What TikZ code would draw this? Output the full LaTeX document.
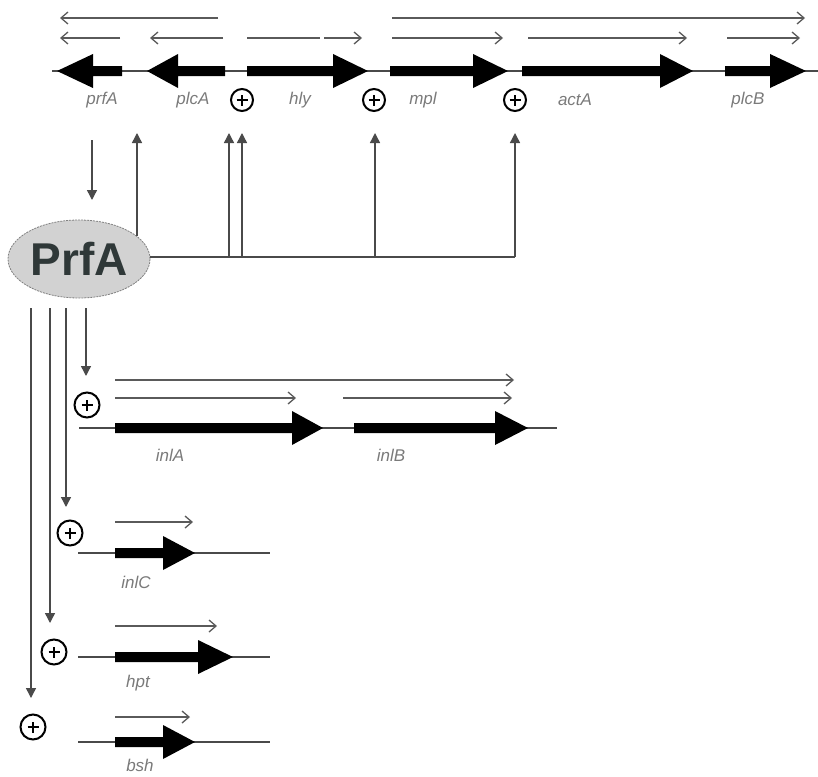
\documentclass[tikz,border=0pt]{standalone}
\usepackage{fontspec}
\setmainfont{Liberation Sans}
\usetikzlibrary{arrows.meta,shapes.geometric}
\definecolor{lineg}{HTML}{4A4A4A}
\definecolor{trg}{HTML}{5A5A5A}
\definecolor{labg}{HTML}{7A7A7A}
\definecolor{prfill}{HTML}{D2D2D2}
\definecolor{prtext}{HTML}{2F3838}
% gene arrow: shaft end, head base, tip, y
\newcommand\genearrow[4]{\fill ({#1},{#4-5}) -- ({#2},{#4-5}) -- ({#2},{#4-17}) -- ({#3},{#4}) -- ({#2},{#4+17}) -- ({#2},{#4+5}) -- ({#1},{#4+5}) -- cycle;}
\begin{document}
\begin{tikzpicture}[x=1pt,y=-1pt,
  gl/.style={draw=lineg, line width=1.4pt},
  tr/.style={draw=trg, line width=1.4pt, -{Straight Barb[length=7pt,width=12pt,line width=1.3pt]}},
  act/.style={draw=lineg, line width=1.4pt, -{Triangle[length=10pt,width=10pt]}},
  lbl/.style={font=\fontsize{17}{20}\selectfont\itshape, text=labg, inner sep=0pt},
  plusc/.style={circle, draw, line width=2pt, minimum size=#1, inner sep=0pt,
    path picture={\draw[line width=2pt]
      ([xshift=-5.5pt]path picture bounding box.center) -- ([xshift=5.5pt]path picture bounding box.center)
      ([yshift=-5.5pt]path picture bounding box.center) -- ([yshift=5.5pt]path picture bounding box.center);}},
  plusc/.default=22pt]
\useasboundingbox (0,0) rectangle (818,776);

% ---------- top operon ----------
\draw[gl] (52,71) -- (818,71);
\genearrow{122}{93}{57}{71}
\genearrow{225}{178}{147}{71}
\genearrow{247}{333}{368}{71}
\genearrow{390}{473}{508}{71}
\genearrow{522}{660}{693}{71}
\genearrow{725}{770}{806}{71}

\node[lbl] (lprfA) at (102,100) {prfA};
\node[lbl] (lplcA) at (193,100) {plcA};
\node[lbl] (lhly)  at (300,100) {hly};
\node[lbl] (lmpl)  at (423,100) {mpl};
\node[lbl] (lactA) at (575,100) {actA};
\node[lbl] (lplcB) at (748,100) {plcB};

\node[plusc] (p1) at (242,100) {};
\node[plusc] (p2) at (374,100) {};
\node[plusc] (p3) at (515,100) {};

% transcripts top
\draw[tr] (218,18) -- (60,18);
\draw[tr] (392,18) -- (805,18);
\draw[tr] (120,38) -- (60,38);
\draw[tr] (223,38) -- (150,38);
\draw[draw=trg, line width=1.4pt] (247,38) -- (320,38);
\draw[tr] (324,38) -- (362,38);
\draw[tr] (392,38) -- (503,38);
\draw[tr] (528,38) -- (687,38);
\draw[tr] (727,38) -- (800,38);

% ---------- PrfA ----------
\node[ellipse, fill=prfill, draw=gray, line width=0.8pt, dash pattern=on 2pt off 1pt,
      minimum width=142pt, minimum height=78pt, inner sep=0pt,
      text=prtext, font=\fontsize{46}{48}\selectfont\bfseries] (PrfA) at (79,259) {PrfA};

\coordinate (dTop) at (92,140);
\coordinate (dBot) at (92,200);
\draw[act] (dTop) -- (dBot);

\coordinate (hEnd) at (515,257);
\draw[gl] (PrfA.east |- hEnd) -- (hEnd);
\coordinate (u1s) at (137,236); \coordinate (u1) at (137,133);
\coordinate (u2) at (229,133); \coordinate (u2s) at (229,257);
\coordinate (u3) at (242,133); \coordinate (u3s) at (242,257);
\coordinate (u4) at (375,133); \coordinate (u4s) at (375,257);
\coordinate (u5) at (515,133);
\draw[act] (u1s) -- (u1);
\draw[act] (u2s) -- (u2);
\draw[act] (u3s) -- (u3);
\draw[act] (u4s) -- (u4);
\draw[act] (hEnd) -- (u5);

% down arrows to lower operons
\coordinate (s1) at (86,308); \coordinate (e1) at (86,376);
\coordinate (s2) at (66,308); \coordinate (e2) at (66,507);
\coordinate (s3) at (50,308); \coordinate (e3) at (50,623);
\coordinate (s4) at (31,308); \coordinate (e4) at (31,698);
\draw[act] (s1) -- (e1);
\draw[act] (s2) -- (e2);
\draw[act] (s3) -- (e3);
\draw[act] (s4) -- (e4);

% ---------- inlAB ----------
\node[plusc=25pt] (p4) at (87,405) {};
\draw[gl] (79,428) -- (557,428);
\genearrow{115}{292}{323}{428}
\genearrow{354}{495}{528}{428}
\draw[tr] (115,380) -- (514,380);
\draw[tr] (115,398) -- (296,398);
\draw[tr] (343,398) -- (512,398);
\node[lbl] (linlA) at (170,455) {inlA};
\node[lbl] (linlB) at (391,455) {inlB};

% ---------- inlC ----------
\node[plusc=25pt] (p5) at (70,533) {};
\draw[gl] (78,553) -- (270,553);
\genearrow{115}{163}{195}{553}
\draw[tr] (115,522) -- (193,522);
\node[lbl] (linlC) at (136,582) {inlC};

% ---------- hpt ----------
\node[plusc=25pt] (p6) at (54,652) {};
\draw[gl] (78,657) -- (270,657);
\genearrow{115}{198}{233}{657}
\draw[tr] (115,626) -- (217,626);
\node[lbl] (lhpt) at (138,683) {hpt};

% ---------- bsh ----------
\node[plusc=25pt] (p7) at (33,727) {};
\draw[gl] (78,742) -- (270,742);
\genearrow{115}{163}{195}{742}
\draw[tr] (115,717) -- (190,717);
\node[lbl] (lbsh) at (140,765) {bsh};
\end{tikzpicture}
\end{document}
